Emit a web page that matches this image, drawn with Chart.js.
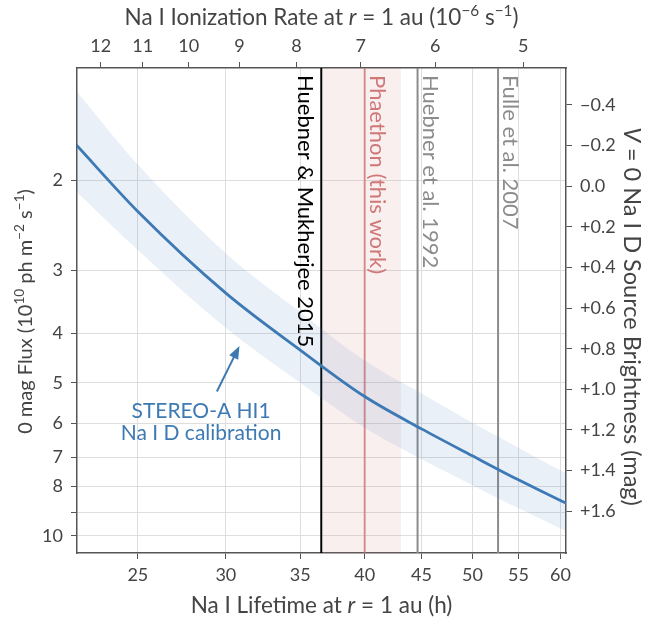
<!DOCTYPE html>
<html>
<head>
<meta charset="utf-8">
<script src="https://cdn.jsdelivr.net/npm/chart.js@4.4.1/dist/chart.umd.min.js"></script>
<style>
  html, body { margin: 0; padding: 0; background: #fff; }
  #wrap { width: 652px; height: 623px; }
</style>
</head>
<body>
<div id="wrap"><canvas id="myChart" width="652" height="623"></canvas></div>
<script>
// Na I lifetime (h) vs 0 mag flux (10^10 ph m^-2 s^-1)
const lifetime = [22, 25, 30, 35, 40, 45, 50, 55, 60, 60.7];
const fluxMid = [1.70, 2.30, 3.33, 4.31, 5.32, 6.16, 6.96, 7.76, 8.52, 8.62];
const fluxBandTop = [1.33, 1.86, 2.78, 3.63, 4.52, 5.25, 5.99, 6.71, 7.44, 7.53];
const fluxBandBottom = [2.10, 2.74, 3.90, 5.00, 6.13, 7.07, 7.95, 8.83, 9.67, 9.79];

// axis ticks
const lifetimeTicks = [25, 30, 35, 40, 45, 50, 55, 60];
const rateTicks = [12, 11, 10, 9, 8, 7, 6, 5];           // 10^-6 s^-1
const fluxTicks = [2, 3, 4, 5, 6, 7, 8, 9, 10];
const magTicks = [-0.4, -0.2, 0, 0.2, 0.4, 0.6, 0.8, 1.0, 1.2, 1.4, 1.6];

// literature lifetimes (h)
const refLabels = ['Huebner & Mukherjee 2015', 'Phaethon (this work)', 'Huebner et al. 1992', 'Fulle et al. 2007'];
const refLifetimes = [36.56, 40.0, 44.63, 52.73];
const phaethonRange = [36.69, 43.12];

// annotation anchors in data units (lifetime, flux)
const arrowTail = [29.45, 5.20];
const arrowHead = [30.86, 4.23];
const noteLines = ['STEREO-A HI1', 'Na I D calibration'];
const notePos = [[28.5, 5.86], [28.5, 6.49]];

const X_MIN = 22.04, X_MAX = 60.7;
const F_MIN = 1.2005, F_MAX = 10.81;
const F_MAG0 = 2.05; // flux at V = 0
const M_MIN = 2.5 * Math.log10(F_MIN / F_MAG0);
const M_MAX = 2.5 * Math.log10(F_MAX / F_MAG0);

const FONT = 'Lato, "Noto Sans", sans-serif';
const TXT = '#444444';
const BLUE = '#3d7ab4';

const rateToLifetime = r => 1e6 / (r * 3600);

function pts(ys) {
    return lifetime.map((x, i) => ({ x: x, y: ys[i] }));
}

// draw a line of text made of styled pieces (italic, superscript)
function drawRich(ctx, parts, x, y, size, color, rot) {
    ctx.save();
    ctx.translate(x, y);
    ctx.rotate(rot || 0);
    ctx.fillStyle = color;
    ctx.textBaseline = 'alphabetic';
    ctx.textAlign = 'left';
    const fontOf = p => (p.it ? 'italic ' : '') + (p.sup ? size * 0.68 : size) + 'px ' + FONT;
    let total = 0;
    parts.forEach(p => { ctx.font = fontOf(p); total += ctx.measureText(p.t).width; });
    let cx = -total / 2;
    parts.forEach(p => {
        ctx.font = fontOf(p);
        ctx.fillText(p.t, cx, p.sup ? -size * 0.4 : 0);
        cx += ctx.measureText(p.t).width;
    });
    ctx.restore();
}

const extras = {
    id: 'extras',
    beforeDatasetsDraw(chart) {
        const { ctx, chartArea: a, scales } = chart;
        ctx.save();
        ctx.beginPath();
        ctx.rect(a.left, a.top, a.right - a.left, a.bottom - a.top);
        ctx.clip();
        // Phaethon range
        const p0 = scales.x.getPixelForValue(phaethonRange[0]);
        const p1 = scales.x.getPixelForValue(phaethonRange[1]);
        ctx.fillStyle = 'rgba(215, 120, 120, 0.12)';
        ctx.fillRect(p0, a.top, p1 - p0, a.bottom - a.top);
        const colors = ['#000000', 'rgba(205, 110, 110, 0.7)', '#8c8c8c', '#8c8c8c'];
        refLifetimes.forEach((t, i) => {
            const px = scales.x.getPixelForValue(t);
            ctx.strokeStyle = colors[i];
            ctx.lineWidth = 2;
            ctx.beginPath();
            ctx.moveTo(px, a.top);
            ctx.lineTo(px, a.bottom);
            ctx.stroke();
        });
        ctx.restore();
    },
    afterDatasetsDraw(chart) {
        const { ctx, chartArea: a, scales } = chart;
        const textColors = ['#000000', '#d07878', '#8c8c8c', '#8c8c8c'];
        ctx.save();
        ctx.font = '22px ' + FONT;
        ctx.textBaseline = 'alphabetic';
        ctx.textAlign = 'left';
        refLabels.forEach((s, i) => {
            const px = scales.x.getPixelForValue(refLifetimes[i]);
            const bx = i === 0 ? px - 23 : px + 5;
            ctx.save();
            ctx.translate(bx, a.top + 7);
            ctx.rotate(Math.PI / 2);
            ctx.fillStyle = textColors[i];
            ctx.fillText(s, 0, 0);
            ctx.restore();
        });

        // arrow + calibration note
        const tx = scales.x.getPixelForValue(arrowTail[0]), ty = scales.y.getPixelForValue(arrowTail[1]);
        const hx = scales.x.getPixelForValue(arrowHead[0]), hy = scales.y.getPixelForValue(arrowHead[1]);
        const ang = Math.atan2(hy - ty, hx - tx);
        ctx.strokeStyle = BLUE;
        ctx.fillStyle = BLUE;
        ctx.lineWidth = 2;
        ctx.beginPath();
        ctx.moveTo(tx, ty);
        ctx.lineTo(hx - 10 * Math.cos(ang), hy - 10 * Math.sin(ang));
        ctx.stroke();
        ctx.beginPath();
        ctx.moveTo(hx, hy);
        ctx.lineTo(hx - 13 * Math.cos(ang) + 5 * Math.sin(ang), hy - 13 * Math.sin(ang) - 5 * Math.cos(ang));
        ctx.lineTo(hx - 13 * Math.cos(ang) - 5 * Math.sin(ang), hy - 13 * Math.sin(ang) + 5 * Math.cos(ang));
        ctx.closePath();
        ctx.fill();
        ctx.font = '21px ' + FONT;
        ctx.textAlign = 'center';
        noteLines.forEach((s, i) => {
            ctx.fillText(s, scales.x.getPixelForValue(notePos[i][0]), scales.y.getPixelForValue(notePos[i][1]));
        });
        ctx.restore();
    },
    afterDraw(chart) {
        const { ctx, chartArea: a } = chart;
        const midX = (a.left + a.right) / 2;
        const midY = (a.top + a.bottom) / 2;
        drawRich(ctx, [{ t: 'Na I Ionization Rate at ' }, { t: 'r', it: true }, { t: ' = 1 au (10' },
            { t: '−6', sup: true }, { t: ' s' }, { t: '−1', sup: true }, { t: ')' }], midX, 25, 22.5, TXT, 0);
        drawRich(ctx, [{ t: 'Na I Lifetime at ' }, { t: 'r', it: true }, { t: ' = 1 au (h)' }], midX, 613, 22.5, TXT, 0);
        drawRich(ctx, [{ t: '0 mag Flux (10' }, { t: '10', sup: true }, { t: ' ph m' }, { t: '−2', sup: true },
            { t: ' s' }, { t: '−1', sup: true }, { t: ')' }], 32, midY + 1, 20, TXT, -Math.PI / 2);
        drawRich(ctx, [{ t: 'V', it: true }, { t: ' = 0 Na I D Source Brightness (mag)' }], 624, midY + 6, 23.5, TXT, Math.PI / 2);
    }
};

const tickFont = { family: FONT, size: 18 };
const gridStyle = { color: '#dedede', tickColor: '#555555', tickLength: 6, lineWidth: 1 };
const borderStyle = { color: '#555555', width: 1.5 };

const config = {
    type: 'line',
    data: {
        datasets: [
            {
                data: pts(fluxBandTop),
                borderWidth: 0,
                pointRadius: 0,
                fill: '+1',
                backgroundColor: 'rgba(61, 122, 180, 0.11)',
                cubicInterpolationMode: 'monotone'
            },
            {
                data: pts(fluxBandBottom),
                borderWidth: 0,
                pointRadius: 0,
                fill: false,
                cubicInterpolationMode: 'monotone'
            },
            {
                data: pts(fluxMid),
                borderColor: BLUE,
                borderWidth: 2.8,
                pointRadius: 0,
                fill: false,
                cubicInterpolationMode: 'monotone'
            }
        ]
    },
    options: {
        responsive: false,
        animation: false,
        layout: { padding: 0 },
        plugins: { legend: { display: false }, tooltip: { enabled: false } },
        scales: {
            x: {
                type: 'logarithmic',
                position: 'bottom',
                min: X_MIN,
                max: X_MAX,
                afterBuildTicks: s => { s.ticks = lifetimeTicks.map(v => ({ value: v })); },
                afterFit: s => { s.height = 70; },
                ticks: { callback: v => String(v), font: tickFont, color: TXT, padding: 5, autoSkip: false, maxRotation: 0 },
                grid: gridStyle,
                border: borderStyle
            },
            x2: {
                type: 'logarithmic',
                position: 'top',
                min: X_MIN,
                max: X_MAX,
                afterBuildTicks: s => { s.ticks = rateTicks.map(r => ({ value: rateToLifetime(r) })); },
                afterFit: s => { s.height = 68; },
                ticks: { callback: v => String(Math.round(1e6 / (v * 3600))), font: tickFont, color: TXT, padding: 5, autoSkip: false, maxRotation: 0 },
                grid: { ...gridStyle, drawOnChartArea: false },
                border: borderStyle
            },
            y: {
                type: 'logarithmic',
                position: 'left',
                reverse: true,
                min: F_MIN,
                max: F_MAX,
                afterBuildTicks: s => { s.ticks = fluxTicks.map(v => ({ value: v })); },
                afterFit: s => { s.width = 77; },
                ticks: { callback: v => (v === 9 ? '' : String(v)), font: tickFont, color: TXT, padding: 8, autoSkip: false },
                grid: gridStyle,
                border: borderStyle
            },
            y2: {
                type: 'linear',
                position: 'right',
                reverse: true,
                min: M_MIN,
                max: M_MAX,
                afterBuildTicks: s => { s.ticks = magTicks.map(v => ({ value: v })); },
                afterFit: s => { s.width = 86; },
                ticks: {
                    callback: v => (Math.abs(v) < 1e-9 ? '0.0' : (v > 0 ? '+' : '−') + Math.abs(v).toFixed(1)),
                    font: tickFont, color: TXT, padding: 8, autoSkip: false
                },
                grid: { ...gridStyle, drawOnChartArea: false },
                border: borderStyle
            }
        }
    },
    plugins: [extras]
};

window.myChart = new Chart(document.getElementById('myChart'), config);
</script>
</body>
</html>
